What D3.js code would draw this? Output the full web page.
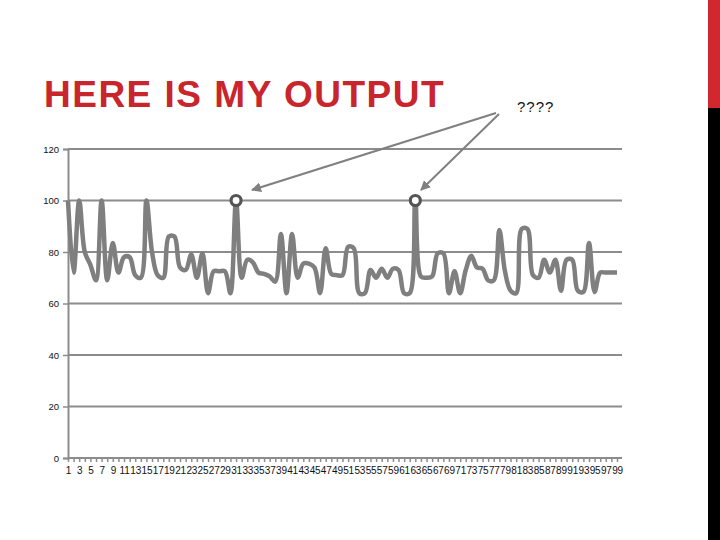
<!DOCTYPE html>
<html lang="en">
<head>
    <meta charset="UTF-8">
    <title>Here is my output</title>
    <script src="https://cdn.jsdelivr.net/npm/d3@7"></script>
    <style>
        body { margin: 0; background: #fff; }
        svg { display: block; }
    </style>
</head>
<body>
    <svg id="chart"></svg>
    <script>
        // values, one per category (1..99)
        const values = [
            100, 72, 100, 80, 75, 69, 100, 69, 83.5, 72,
            78, 78, 71, 70, 100, 80, 71, 70, 86, 86,
            74, 73, 79, 70, 79.5, 64, 72.5, 72.5, 72.5, 64,
            100, 70, 77, 76, 72, 71.5, 70.5, 68.5, 87, 64,
            87, 70, 75.5, 75.5, 74, 64, 81.5, 71.5, 71, 71,
            82, 81.5, 64, 64, 73, 70, 73.5, 70, 73.5, 73,
            64, 64, 100, 70.5, 70, 70.5, 79.5, 79.5, 64, 72.5,
            64, 73, 78.5, 74, 73.5, 69, 69, 88.5, 72.5, 65,
            64, 89, 89, 71, 70, 77, 72, 77, 65, 77,
            77, 65, 64.5, 83.5, 64.5, 72, 72, 72, 72
        ]
        const categories = values.map((_, i) => i + 1)
        const yTicks = [0, 20, 40, 60, 80, 100, 120]
        const circled = [31, 63]
        const title = 'HERE IS MY OUTPUT'
        const note = '????'

        const width = 720, height = 540
        const svg = d3.select('#chart').attr('width', width).attr('height', height)

        // side bar
        svg.append('rect').attr('x', 708).attr('y', 0).attr('width', 12).attr('height', 108).attr('fill', '#d0282e')
        svg.append('rect').attr('x', 708).attr('y', 108).attr('width', 12).attr('height', 432).attr('fill', '#000')

        svg.append('text')
            .attr('x', 44).attr('y', 107)
            .attr('fill', '#c9252c')
            .style('font', 'bold 37px "Liberation Sans", Arial, sans-serif')
            .style('letter-spacing', '1.5px')
            .text(title)

        const x = d3.scalePoint().domain(categories).range([68, 617])
        const y = d3.scaleLinear().domain([0, 120]).range([458, 149])
        const gridRight = 622

        // gridlines
        svg.append('g').selectAll('line')
            .data(yTicks)
            .join('line')
            .attr('x1', 68).attr('x2', gridRight)
            .attr('y1', d => y(d)).attr('y2', d => y(d))
            .attr('stroke', '#8c8c8c')
            .attr('stroke-width', 2)

        // y axis
        const yAxis = svg.append('g')
            .attr('transform', 'translate(68,0)')
            .call(d3.axisLeft(y).tickValues(yTicks).tickSize(5).tickPadding(4))
        yAxis.select('.domain').attr('stroke', '#8c8c8c').attr('stroke-width', 2)
        yAxis.selectAll('.tick line').attr('stroke', '#8c8c8c').attr('stroke-width', 1.5)
        yAxis.selectAll('text')
            .style('font', '9.5px "Liberation Sans", Arial, sans-serif')
            .attr('fill', '#111')

        // x axis
        const xAxis = svg.append('g')
            .attr('transform', `translate(0,${y(0)})`)
            .call(d3.axisBottom(x).tickSize(4).tickPadding(5)
                .tickFormat(d => d % 2 === 1 ? d : ''))
        xAxis.select('.domain').remove()
        xAxis.selectAll('.tick line').attr('stroke', '#8c8c8c').attr('stroke-width', 1.5)
        xAxis.selectAll('text')
            .style('font', '10px "Liberation Sans", Arial, sans-serif')
            .style('letter-spacing', '-0.2px')
            .attr('fill', '#111')

        // the series
        const line = d3.line()
            .x((d, i) => x(categories[i]))
            .y(d => y(d))
            .curve(d3.curveCatmullRom.alpha(0.5))

        svg.append('path')
            .datum(values)
            .attr('d', line)
            .attr('fill', 'none')
            .attr('stroke', '#7f7f7f')
            .attr('stroke-width', 4.5)
            .attr('stroke-linejoin', 'round')

        svg.append('g').selectAll('circle')
            .data(circled)
            .join('circle')
            .attr('cx', d => x(d))
            .attr('cy', d => y(values[d - 1]))
            .attr('r', 5)
            .attr('fill', '#fff')
            .attr('stroke', '#555')
            .attr('stroke-width', 3.2)

        // callout
        svg.append('defs').append('marker')
            .attr('id', 'head')
            .attr('viewBox', '0 0 10 10')
            .attr('refX', 9).attr('refY', 5)
            .attr('markerWidth', 5).attr('markerHeight', 5)
            .attr('orient', 'auto')
            .append('path')
            .attr('d', 'M0,0 L10,5 L0,10 Z')
            .attr('fill', '#808080')

        const arrowTargets = [[252, 190], [421, 190]]
        const arrowStarts = [[496, 113], [499, 114]]
        svg.append('g').selectAll('line')
            .data(arrowTargets)
            .join('line')
            .attr('x1', (d, i) => arrowStarts[i][0]).attr('y1', (d, i) => arrowStarts[i][1])
            .attr('x2', d => d[0]).attr('y2', d => d[1])
            .attr('stroke', '#808080')
            .attr('stroke-width', 2)
            .attr('marker-end', 'url(#head)')

        svg.append('text')
            .attr('x', 517).attr('y', 112)
            .style('font', '15px "Liberation Sans", Arial, sans-serif')
            .style('letter-spacing', '1px')
            .attr('fill', '#111')
            .text(note)
    </script>
</body>
</html>
